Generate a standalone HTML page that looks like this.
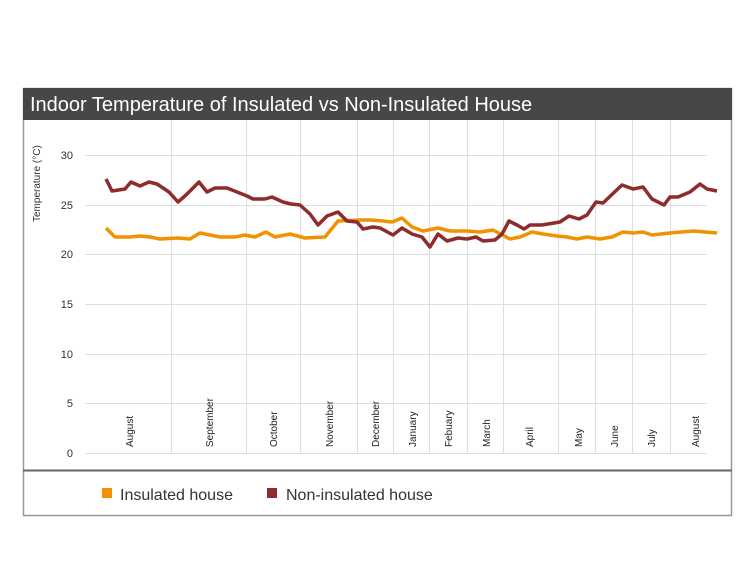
<!DOCTYPE html>
<html><head><meta charset="utf-8"><style>body{margin:0;background:#fff}svg{display:block}</style></head><body>
<svg width="750" height="563" xmlns="http://www.w3.org/2000/svg" font-family="Liberation Sans, sans-serif">
<rect x="23.5" y="88.5" width="708" height="427" fill="#fff" stroke="#999" stroke-width="1.5"/>
<rect x="23" y="88" width="709" height="32" fill="#474747"/>
<text x="30" y="111" font-size="20" fill="#fff">Indoor Temperature of Insulated vs Non-Insulated House</text>
<g stroke="#dedede" stroke-width="1">
<line x1="85" y1="155.5" x2="707" y2="155.5"/><line x1="85" y1="205.5" x2="707" y2="205.5"/>
<line x1="85" y1="254.5" x2="707" y2="254.5"/><line x1="85" y1="304.5" x2="707" y2="304.5"/>
<line x1="85" y1="354.5" x2="707" y2="354.5"/><line x1="85" y1="403.5" x2="707" y2="403.5"/>
<line x1="85" y1="453.5" x2="707" y2="453.5"/>
<line x1="171.5" y1="120" x2="171.5" y2="453"/><line x1="246.5" y1="120" x2="246.5" y2="453"/>
<line x1="300.5" y1="120" x2="300.5" y2="453"/><line x1="357.5" y1="120" x2="357.5" y2="453"/>
<line x1="393.5" y1="120" x2="393.5" y2="453"/><line x1="429.5" y1="120" x2="429.5" y2="453"/>
<line x1="467.5" y1="120" x2="467.5" y2="453"/><line x1="503.5" y1="120" x2="503.5" y2="453"/>
<line x1="558.5" y1="120" x2="558.5" y2="453"/><line x1="595.5" y1="120" x2="595.5" y2="453"/>
<line x1="632.5" y1="120" x2="632.5" y2="453"/><line x1="670.5" y1="120" x2="670.5" y2="453"/>
</g>
<g font-size="11" fill="#333" text-anchor="end">
<text x="73" y="159">30</text><text x="73" y="209">25</text><text x="73" y="258">20</text>
<text x="73" y="308">15</text><text x="73" y="358">10</text><text x="73" y="407">5</text><text x="73" y="457">0</text>
</g>
<text transform="translate(40,222) rotate(-90)" font-size="10" fill="#333">Temperature (°C)</text>
<g font-size="10" fill="#222" text-anchor="start">
<text transform="translate(133,447) rotate(-90)">August</text>
<text transform="translate(213,447) rotate(-90)">September</text>
<text transform="translate(277,447) rotate(-90)">October</text>
<text transform="translate(333,447) rotate(-90)">November</text>
<text transform="translate(379,447) rotate(-90)">December</text>
<text transform="translate(416,447) rotate(-90)">January</text>
<text transform="translate(452,447) rotate(-90)">Febuary</text>
<text transform="translate(490,447) rotate(-90)">March</text>
<text transform="translate(533,447) rotate(-90)">April</text>
<text transform="translate(582,447) rotate(-90)">May</text>
<text transform="translate(618,447) rotate(-90)">June</text>
<text transform="translate(655,447) rotate(-90)">July</text>
<text transform="translate(699,447) rotate(-90)">August</text>
</g>
<polyline fill="none" stroke="#f39200" stroke-width="3.5" stroke-linejoin="round" points="106,228 115,237 130,237 140,236 150,237 160,239 178,238 190,239 200,233 220,237 235,237 245,235 255,237 266,232 275,237 290,234 305,238 325,237 338,221 360,220 370,220 383,221 392,222 402,218 412,227 423,231 438,228 450,231 467,231 480,232 493,230 510,239 520,237 532,232 543,234 557,236 567,237 577,239 587,237 600,239 612,237 623,232 633,233 643,232 652,235 670,233 693,231 717,233"/>
<polyline fill="none" stroke="#8e2b2b" stroke-width="3.5" stroke-linejoin="round" points="106,179 112,191 125,189 131,182 140,186 149,182 157,184 163,188 169,192 178,202 186,195 199,182 207,192 215,188 227,188 237,192 247,196 253,199 265,199 272,197 283,202 291,204 300,205 310,214 318,225 327,216 338,212 347,221 357,222 363,229 373,227 380,228 393,235 402,228 412,234 422,237 430,247 438,234 447,241 458,238 467,239 476,237 483,241 495,240 502,234 509,221 517,225 524,229 530,225 542,225 560,222 569,216 579,219 587,215 596,202 603,203 622,185 633,189 643,187 652,199 664,205 670,197 678,197 690,192 700,184 707,189 717,191"/>
<line x1="23" y1="470.5" x2="732" y2="470.5" stroke="#666" stroke-width="2"/>
<rect x="102" y="488" width="10" height="10" fill="#f39200"/>
<text x="120" y="500" font-size="16" fill="#333">Insulated house</text>
<rect x="267" y="488" width="10" height="10" fill="#8e2b2b"/>
<text x="286" y="500" font-size="16" fill="#333">Non-insulated house</text>
</svg>
</body></html>
